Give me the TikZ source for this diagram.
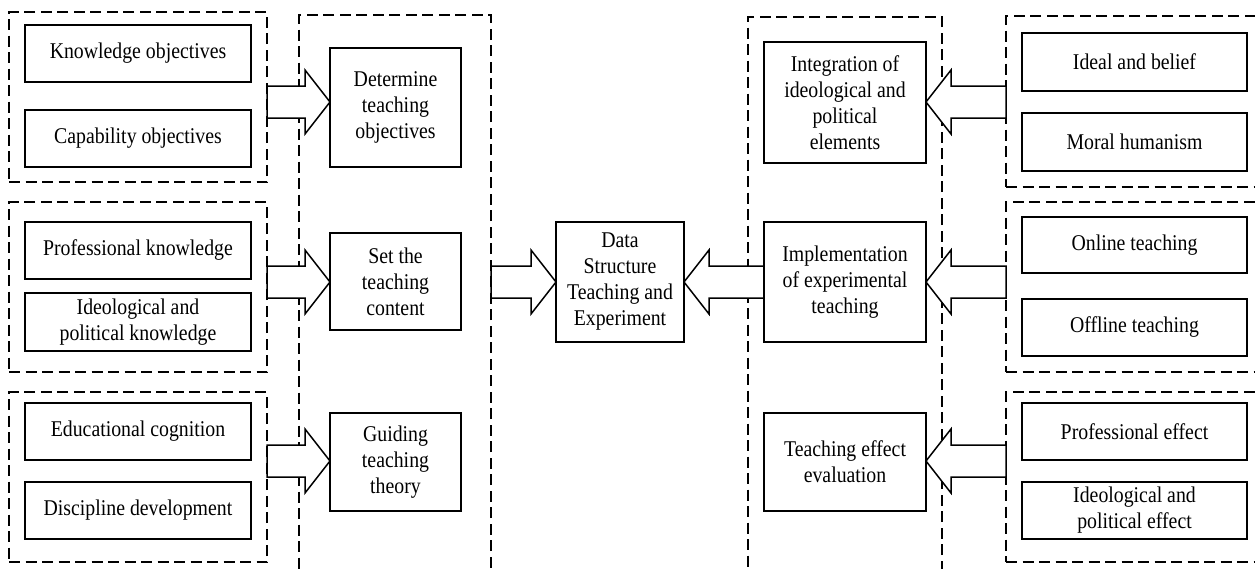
\documentclass[tikz,border=0pt]{standalone}
\usepackage{fontspec}
\setmainfont{Liberation Serif}[FakeStretch=0.88]
\usetikzlibrary{calc}

\tikzset{
  lbl/.style={font=\fontsize{22.5pt}{26pt}\selectfont, align=center},
  box/.style={lbl, draw, line width=1.5pt, fill=white, anchor=north west, inner sep=2pt, outer sep=0pt},
  group/.style={draw, line width=1.3pt, dash pattern=on 11pt off 5.5pt, anchor=north west, inner sep=0pt, outer sep=0pt},
  barrow/.style={draw, line width=1.5pt, fill=white, line join=miter}
}

% block arrow from a tail point to a tip point lying on the same row
\newcommand\blockarrow[2]{%
  \path[barrow] ($(#1)+(0,-16)$) -- ($(#2)!25pt!(#1)+(0,-16)$) -- ($(#2)!25pt!(#1)+(0,-32)$)
    -- (#2) -- ($(#2)!25pt!(#1)+(0,32)$) -- ($(#2)!25pt!(#1)+(0,16)$) -- ($(#1)+(0,16)$) -- cycle;}

\begin{document}
\begin{tikzpicture}[x=1pt, y=-1pt]
\path[use as bounding box] (0,0) rectangle (1255,568);
\clip (0,0) rectangle (1255,568);

% rows on which the block arrows sit
\coordinate (ya) at (0,102);
\coordinate (yb) at (0,282);
\coordinate (yc) at (0,461);

% dashed groupings
\node[group, minimum width=258, minimum height=170] (g1) at (9,12) {};
\node[group, minimum width=258, minimum height=170] (g2) at (9,202) {};
\node[group, minimum width=258, minimum height=170] (g3) at (9,392) {};
\node[group, minimum width=192, minimum height=575] (c2) at (299,15) {};
\node[group, minimum width=194, minimum height=575] (c3) at (748,17) {};
\node[group, minimum width=262, minimum height=171] (g4) at (1006,16) {};
\node[group, minimum width=262, minimum height=170] (g5) at (1006,202) {};
\node[group, minimum width=262, minimum height=170] (g6) at (1006,392) {};

% step boxes and the central box
\node[box, minimum width=131, minimum height=119] (det) at (330,48) {Determine\\teaching\\objectives};
\node[box, minimum width=131, minimum height=97] (set) at (330,233) {Set the\\teaching\\content};
\node[box, minimum width=131, minimum height=98] (gui) at (330,413) {Guiding\\teaching\\theory};
\node[box, minimum width=128, minimum height=120] (data) at (556,222) {Data\\Structure\\Teaching and\\Experiment};
\node[box, minimum width=162, minimum height=121] (int) at (764,42) {Integration of\\ideological and\\political\\elements};
\node[box, minimum width=162, minimum height=120] (imp) at (764,222) {Implementation\\of experimental\\teaching};
\node[box, minimum width=162, minimum height=98] (eva) at (764,413) {Teaching effect\\evaluation};

% block arrows
\blockarrow{g1.east |- ya}{det.west |- ya}
\blockarrow{g2.east |- yb}{set.west |- yb}
\blockarrow{g3.east |- yc}{gui.west |- yc}
\blockarrow{c2.east |- yb}{data.west |- yb}
\blockarrow{imp.west |- yb}{data.east |- yb}
\blockarrow{g4.west |- ya}{int.east |- ya}
\blockarrow{g5.west |- yb}{imp.east |- yb}
\blockarrow{g6.west |- yc}{eva.east |- yc}

% box outlines redrawn over the arrow tips
\foreach \n in {det,set,gui,data,int,imp,eva}
  \draw[line width=1.5pt] (\n.north west) rectangle (\n.south east);

% left-hand items
\node[box, minimum width=226, minimum height=57] (k1) at (25,25) {Knowledge objectives};
\node[box, minimum width=226, minimum height=57] (k2) at (25,110) {Capability objectives};
\node[box, minimum width=226, minimum height=57] (k3) at (25,222) {Professional knowledge};
\node[box, minimum width=226, minimum height=58] (k4) at (25,293) {Ideological and\\political knowledge};
\node[box, minimum width=226, minimum height=57] (k5) at (25,403) {Educational cognition};
\node[box, minimum width=226, minimum height=57] (k6) at (25,482) {Discipline development};

% right-hand items
\node[box, minimum width=225, minimum height=58] (r1) at (1022,33) {Ideal and belief};
\node[box, minimum width=225, minimum height=58] (r2) at (1022,113) {Moral humanism};
\node[box, minimum width=225, minimum height=56] (r3) at (1022,217) {Online teaching};
\node[box, minimum width=225, minimum height=57] (r4) at (1022,299) {Offline teaching};
\node[box, minimum width=225, minimum height=57] (r5) at (1022,403) {Professional effect};
\node[box, minimum width=225, minimum height=57] (r6) at (1022,482) {Ideological and\\political effect};
\end{tikzpicture}
\end{document}
